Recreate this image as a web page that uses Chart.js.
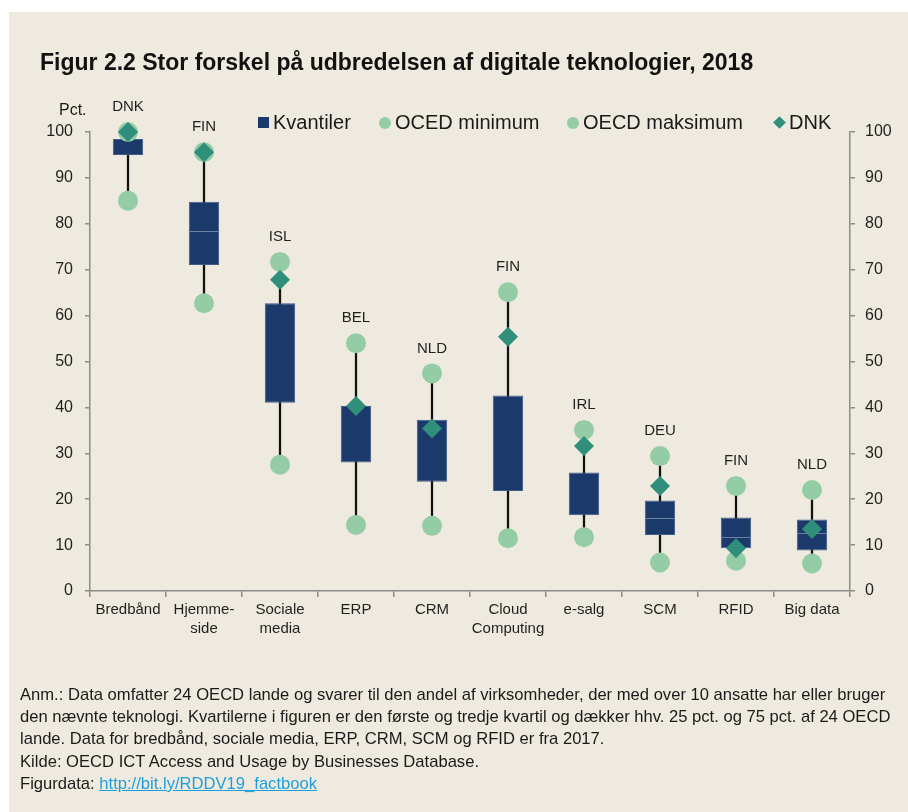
<!DOCTYPE html>
<html>
<head>
<meta charset="utf-8">
<script src="https://cdn.jsdelivr.net/npm/chart.js@4"></script>
<style>
  html, body { margin: 0; padding: 0; background: #ffffff; }
  #wrap { position: relative; width: 908px; height: 812px; overflow: hidden; background: #ffffff; font-family: "Liberation Sans", Arial, sans-serif; color: #1a1a1a; }
  #bg { position: absolute; left: 9px; top: 12px; right: 0; bottom: 0; background: #EFEADF; }
  #c { position: absolute; left: 0; top: 0; }
  #title { position: absolute; left: 40px; top: 49px; font-size: 23px; line-height: 26px; font-weight: bold; color: #111; white-space: nowrap; }
  #pct { position: absolute; left: 59px; top: 99px; font-size: 16px; line-height: 22px; white-space: nowrap; }
  .leg { position: absolute; top: 111px; font-size: 20px; line-height: 23px; white-space: nowrap; }
  .mk { position: absolute; }
  #foot { position: absolute; left: 20px; top: 684px; font-size: 16.6px; line-height: 22.2px; white-space: nowrap; color: #1a1a1a; }
  #foot a { color: #1E9FDC; text-decoration: underline; }
</style>
</head>
<body>
<div id="wrap">
  <div id="bg"></div>
  <canvas id="c" width="908" height="812"></canvas>
  <div id="title">Figur 2.2 Stor forskel på udbredelsen af digitale teknologier, 2018</div>
  <div id="pct">Pct.</div>
  <div class="mk" style="left:258px; top:117px; width:11px; height:11px; background:#1B3A6B;"></div>
  <div class="leg" style="left:273px;">Kvantiler</div>
  <div class="mk" style="left:379px; top:117px; width:12px; height:12px; border-radius:50%; background:#93CCA5;"></div>
  <div class="leg" style="left:395px;">OCED minimum</div>
  <div class="mk" style="left:567px; top:117px; width:12px; height:12px; border-radius:50%; background:#93CCA5;"></div>
  <div class="leg" style="left:583px;">OECD maksimum</div>
  <div class="mk" style="left:775px; top:118px; width:9px; height:9px; background:#2F8F7B; transform:rotate(45deg);"></div>
  <div class="leg" style="left:789px;">DNK</div>
  <div id="foot">Anm.: Data omfatter 24 OECD lande og svarer til den andel af virksomheder, der med over 10 ansatte har eller bruger<br>den nævnte teknologi. Kvartilerne i figuren er den første og tredje kvartil og dækker hhv. 25 pct. og 75 pct. af 24 OECD<br>lande. Data for bredbånd, sociale media, ERP, CRM, SCM og RFID er fra 2017.<br>Kilde: OECD ICT Access and Usage by Businesses Database.<br>Figurdata: <a href="#">http://bit.ly/RDDV19_factbook</a></div>
</div>
<script>
const categories = [['Bredbånd'], ['Hjemme-', 'side'], ['Sociale', 'media'], ['ERP'], ['CRM'], ['Cloud', 'Computing'], ['e-salg'], ['SCM'], ['RFID'], ['Big data']];
const q1 = [95.0, 71.0, 41.0, 28.0, 23.8, 21.8, 16.5, 12.2, 9.3, 8.8];
const q3 = [98.5, 84.8, 62.7, 40.3, 37.3, 42.6, 25.8, 19.7, 16.0, 15.6];
const median = [null, 78.5, null, null, null, null, null, 15.8, 11.7, 12.7];
const oecdMin = [85.0, 62.7, 27.5, 14.4, 14.2, 11.5, 11.7, 6.2, 6.6, 6.0];
const oecdMax = [100.0, 95.6, 71.7, 54.0, 47.4, 65.1, 35.1, 29.4, 22.9, 22.0];
const dnk = [100.0, 95.6, 67.8, 40.3, 35.4, 55.4, 31.6, 22.9, 9.3, 13.5];
const maxCountry = ['DNK', 'FIN', 'ISL', 'BEL', 'NLD', 'FIN', 'IRL', 'DEU', 'FIN', 'NLD'];
const yTicks = [0, 10, 20, 30, 40, 50, 60, 70, 80, 90, 100];

const FONT = '"Liberation Sans", Arial, sans-serif';
const AXIS = '#8c8c8c';
const TXT = '#1f1f1f';

const medianPlugin = {
  id: 'medianLines',
  afterDatasetDraw(chart, args) {
    if (args.meta.type !== 'bar' || chart.data.datasets[args.index].label !== 'Kvantiler') return;
    const ctx = chart.ctx;
    const y = chart.scales.y;
    ctx.save();
    ctx.strokeStyle = '#6C80A3';
    ctx.lineWidth = 1;
    args.meta.data.forEach((bar, i) => {
      if (median[i] == null) return;
      const py = Math.round(y.getPixelForValue(median[i])) + 0.5;
      ctx.beginPath();
      ctx.moveTo(bar.x - bar.width / 2 + 1, py);
      ctx.lineTo(bar.x + bar.width / 2 - 1, py);
      ctx.stroke();
    });
    ctx.restore();
  }
};

const countryPlugin = {
  id: 'countryLabels',
  afterDatasetsDraw(chart) {
    const ctx = chart.ctx;
    const x = chart.scales.x, y = chart.scales.y;
    ctx.save();
    ctx.font = '15px ' + FONT;
    ctx.fillStyle = TXT;
    ctx.textAlign = 'center';
    ctx.textBaseline = 'middle';
    maxCountry.forEach((c, i) => {
      ctx.fillText(c, x.getPixelForValue(i), y.getPixelForValue(oecdMax[i]) - 25);
    });
    ctx.restore();
  }
};

const yAxis = (pos, w, pad) => ({
  type: 'linear',
  position: pos,
  min: 0,
  max: 100,
  afterBuildTicks: s => { s.ticks = yTicks.map(v => ({ value: v })); },
  afterFit: s => { s.width = w; },
  grid: { drawOnChartArea: false, drawTicks: true, tickLength: 5, color: AXIS, lineWidth: 1.5 },
  border: { display: true, color: AXIS, width: 1.5 },
  ticks: { font: { size: 16, family: FONT }, color: TXT, padding: pad }
});

new Chart(document.getElementById('c'), {
  type: 'bar',
  data: {
    labels: categories,
    datasets: [
      {
        type: 'bar', label: 'Whisker', order: 6, grouped: false, clip: false,
        data: oecdMin.map((v, i) => [v, oecdMax[i]]),
        backgroundColor: '#111111', barThickness: 1.6, borderWidth: 0
      },
      {
        type: 'bar', label: 'Kvantiler', order: 5, grouped: false, clip: false,
        data: q1.map((v, i) => [v, q3[i]]),
        backgroundColor: '#1B3A6B', borderColor: '#3E5C88', borderWidth: 1, borderSkipped: false,
        categoryPercentage: 1, barPercentage: 0.4
      },
      {
        type: 'line', label: 'OCED minimum', order: 3, data: oecdMin, showLine: false, clip: false,
        pointStyle: 'circle', pointRadius: 10, pointHoverRadius: 10, pointBorderWidth: 0,
        pointBackgroundColor: '#93CCA5', borderColor: '#93CCA5'
      },
      {
        type: 'line', label: 'OECD maksimum', order: 2, data: oecdMax, showLine: false, clip: false,
        pointStyle: 'circle', pointRadius: 10, pointHoverRadius: 10, pointBorderWidth: 0,
        pointBackgroundColor: '#93CCA5', borderColor: '#93CCA5'
      },
      {
        type: 'line', label: 'DNK', order: 1, data: dnk, showLine: false, clip: false,
        pointStyle: 'rectRot', pointRadius: 10, pointHoverRadius: 10, pointBorderWidth: 0,
        pointBackgroundColor: '#2F8F7B', borderColor: '#2F8F7B'
      }
    ]
  },
  options: {
    responsive: false,
    animation: false,
    layout: { padding: { top: 132, bottom: 161, left: 0, right: 0 } },
    plugins: { legend: { display: false }, tooltip: { enabled: false } },
    scales: {
      x: {
        type: 'category',
        offset: true,
        afterFit: s => { s.height = 60; },
        grid: { offset: true, drawOnChartArea: false, drawTicks: true, tickLength: 6, color: AXIS, lineWidth: 1.5 },
        border: { display: true, color: AXIS, width: 1.5 },
        ticks: { font: { size: 15, family: FONT, lineHeight: 1.27 }, color: TXT, padding: 3, maxRotation: 0, autoSkip: false }
      },
      y: yAxis('left', 90, 12),
      y2: yAxis('right', 58, 10)
    }
  },
  plugins: [medianPlugin, countryPlugin]
});
</script>
</body>
</html>
